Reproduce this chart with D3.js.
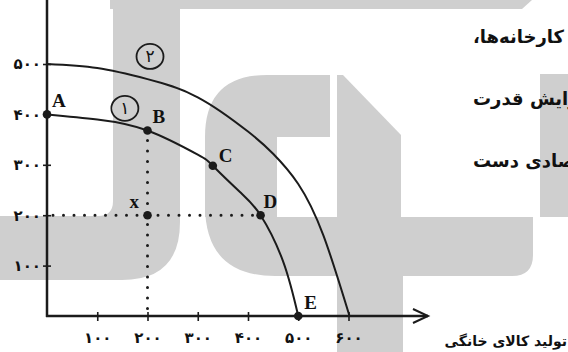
<!DOCTYPE html>
<html>
<head>
<meta charset="utf-8">
<script src="https://cdn.jsdelivr.net/npm/d3@7"></script>
<style>
  html, body { margin: 0; padding: 0; background: #fff; }
  svg { display: block; }
</style>
</head>
<body>
<svg id="chart"></svg>
<script>
// data
var xTicks = [100, 200, 300, 400, 500, 600];
var yTicks = [100, 200, 300, 400, 500];
var curve1 = [[0, 400], [100, 390], [200, 368], [300, 320], [330, 298], [384, 246], [425, 200], [470, 108], [500, 0]];
var curve2 = [[0, 500], [100, 492], [200, 470], [300, 434], [400, 366], [450, 322], [500, 262], [550, 160], [602, 0]];
var points = [
    {name: 'A', x: 0, y: 400},
    {name: 'B', x: 200, y: 368},
    {name: 'C', x: 330, y: 298},
    {name: 'D', x: 425, y: 200},
    {name: 'E', x: 500, y: 0},
    {name: 'x', x: 200, y: 200}
];
var curveTags = [{text: '۱', x: 155, y: 412}, {text: '۲', x: 205, y: 515}];
var xTitle = 'تولید کالای خانگی';
var sideLines = ['کارخانه‌ها،', 'افزایش قدرت', 'اقتصادی دست'];

var width = 568, height = 352;
var ink = '#1b1b1b';
var RLM = '\u200F';
var persian = function(v){ return String(v).replace(/\d/g, function(d){ return '۰۱۲۳۴۵۶۷۸۹'[d]; }); };

var svg = d3.select('svg#chart')
    .attr('width', width)
    .attr('height', height)
    .attr('viewBox', '0 0 ' + width + ' ' + height);

svg.append('rect').attr('width', width).attr('height', height).style('fill', '#fff');

// grey logo watermark behind the chart
var mark = svg.append('g').style('fill', '#cfcfcf');
mark.append('path').attr('d', 'M110,0 L532,0 L522,9 L110,9 Z');
mark.append('path').attr('d', 'M113,8 L180,8 L180,222 Q180,280 122,280 L0,280 L0,216 L98,216 Q113,216 113,201 Z');
mark.append('path').attr('d', 'M205,217 L205,137 Q205,75 267,75 L330,75 L330,137 L277,137 L277,217 Z');
mark.append('path').attr('d', 'M205,205 L205,217 L533,217 L533,255 Q533,276 512,276 L275,276 Q205,276 205,205 Z');
mark.append('path').attr('d', 'M337,75 L343,75 L401,135 L401,217 L337,217 Z');
mark.append('rect').attr('x', 337).attr('y', 275).attr('width', 66).attr('height', 77);
mark.append('rect').attr('x', 540).attr('y', 74).attr('width', 28).attr('height', 143);

// paragraph lines running off the right edge
svg.append('g')
    .selectAll('text').data(sideLines).join('text')
    .attr('x', 473)
    .attr('y', function(d, i){ return 43 + i * 62; })
    .attr('text-anchor', 'start')
    .style('font-family', '"DejaVu Sans", sans-serif')
    .style('font-weight', 'bold')
    .style('font-size', '18px')
    .style('fill', '#111')
    .text(function(d){ return d + RLM; });

var x = d3.scaleLinear().domain([0, 600]).range([47, 348.5]);
var y = d3.scaleLinear().domain([0, 500]).range([316, 64]);

// dotted guides
var dotted = svg.append('g')
    .style('stroke', ink)
    .style('stroke-width', 3)
    .style('stroke-linecap', 'round')
    .style('stroke-dasharray', '0,10.5');
dotted.append('line')
    .attr('x1', x(0) + 6).attr('y1', y(200))
    .attr('x2', x(425)).attr('y2', y(200));
dotted.append('line')
    .attr('x1', x(200)).attr('y1', y(368) + 10)
    .attr('x2', x(200)).attr('y2', y(0));

// frontier curves
var line = d3.line()
    .x(function(d){ return x(d[0]); })
    .y(function(d){ return y(d[1]); })
    .curve(d3.curveNatural);
svg.selectAll('path.ppf').data([curve1, curve2]).join('path')
    .attr('class', 'ppf')
    .attr('d', line)
    .style('fill', 'none')
    .style('stroke', ink)
    .style('stroke-width', 2);

// axes
var yAxis = svg.append('g').attr('transform', 'translate(' + x(0) + ',0)')
    .call(d3.axisLeft(y).tickValues(yTicks).tickSize(4).tickFormat(persian));
yAxis.select('.domain').remove();
yAxis.selectAll('.tick line').attr('x1', -4).attr('x2', 4).style('stroke', ink).style('stroke-width', 1.6);
yAxis.selectAll('.tick text').attr('x', -6);

var xAxis = svg.append('g').attr('transform', 'translate(0,' + y(0) + ')')
    .call(d3.axisBottom(x).tickValues(xTicks).tickSize(5).tickFormat(persian));
xAxis.select('.domain').remove();
xAxis.selectAll('.tick line').attr('y1', -4).attr('y2', 5).style('stroke', ink).style('stroke-width', 1.6);
xAxis.selectAll('.tick text').attr('y', 16);

svg.selectAll('.tick text')
    .style('font-family', '"DejaVu Sans", sans-serif')
    .style('font-weight', 'bold')
    .style('font-size', '15px')
    .style('letter-spacing', '0.5px')
    .style('fill', '#111');

svg.append('line')
    .attr('x1', x(0)).attr('y1', 0).attr('x2', x(0)).attr('y2', y(0) + 1)
    .style('stroke', ink).style('stroke-width', 2.5);
svg.append('line')
    .attr('x1', x(0) - 1).attr('y1', y(0)).attr('x2', 428).attr('y2', y(0))
    .style('stroke', ink).style('stroke-width', 2.5);
svg.append('path')
    .attr('d', 'M413,' + (y(0) - 7) + ' L428,' + y(0) + ' L413,' + (y(0) + 7))
    .style('fill', 'none').style('stroke', ink).style('stroke-width', 2);

svg.append('text')
    .attr('x', 567).attr('y', 346)
    .attr('text-anchor', 'end')
    .style('font-family', '"DejaVu Sans", sans-serif')
    .style('font-weight', 'bold')
    .style('font-size', '14px')
    .style('fill', '#111')
    .text(xTitle);

// labelled points
var labelOffset = {A: [5, -7], B: [5, -8], C: [6, -4], D: [3, -7], E: [6, -7], x: [-18, -7]};
svg.selectAll('circle.pt').data(points).join('circle')
    .attr('class', 'pt')
    .attr('cx', function(d){ return x(d.x); })
    .attr('cy', function(d){ return y(d.y); })
    .attr('r', 4.3)
    .style('fill', ink);
svg.selectAll('text.pt').data(points).join('text')
    .attr('class', 'pt')
    .attr('x', function(d){ return x(d.x) + labelOffset[d.name][0]; })
    .attr('y', function(d){ return y(d.y) + labelOffset[d.name][1]; })
    .style('font-family', '"Liberation Serif", serif')
    .style('font-weight', 'bold')
    .style('font-size', '19px')
    .style('fill', '#111')
    .text(function(d){ return d.name; });

// circled curve numbers
var tags = svg.selectAll('g.tag').data(curveTags).join('g')
    .attr('class', 'tag')
    .attr('transform', function(d){ return 'translate(' + x(d.x) + ',' + y(d.y) + ')'; });
tags.append('ellipse')
    .attr('rx', 13.5).attr('ry', 12.5)
    .style('fill', 'none').style('stroke', ink).style('stroke-width', 1.8);
tags.append('text')
    .attr('y', 6)
    .attr('text-anchor', 'middle')
    .style('font-family', '"DejaVu Sans", sans-serif')
    .style('font-size', '17px')
    .style('fill', '#111')
    .text(function(d){ return d.text; });
</script>
</body>
</html>
